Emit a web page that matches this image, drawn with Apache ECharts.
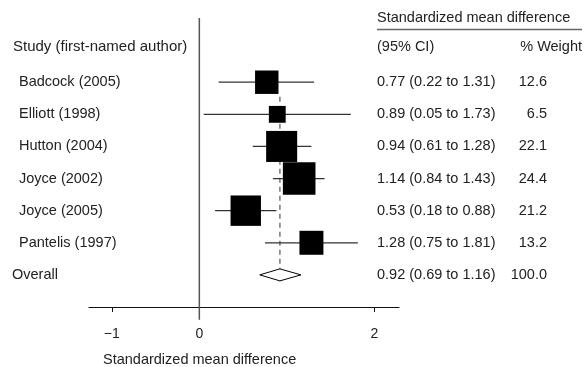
<!DOCTYPE html>
<html>
<head>
<meta charset="utf-8">
<script src="https://cdn.jsdelivr.net/npm/echarts@6/dist/echarts.min.js"></script>
<style>
  html, body { margin: 0; padding: 0; background: #fff; }
  #chart { width: 587px; height: 367px; }
</style>
</head>
<body>
<div id="chart"></div>
<script>
  // study data (standardized mean difference, 95% CI, % weight)
  const studies = ['Badcock (2005)', 'Elliott (1998)', 'Hutton (2004)', 'Joyce (2002)', 'Joyce (2005)', 'Pantelis (1997)'];
  const smd = [0.77, 0.89, 0.94, 1.14, 0.53, 1.28];
  const lower = [0.22, 0.05, 0.61, 0.84, 0.18, 0.75];
  const upper = [1.31, 1.73, 1.28, 1.43, 0.88, 1.81];
  const weight = [12.6, 6.5, 22.1, 24.4, 21.2, 13.2];
  const overallName = 'Overall';
  const overall = [0.92, 0.69, 1.16, 100.0];
  const tickValues = [-1, 0, 2];

  const FONT = '"Liberation Sans", Arial, sans-serif';
  const FS = 14.5;
  const TXT = '#222';

  const fmt = v => v.toFixed(2);
  const ciText = (e, l, u) => fmt(e) + ' (' + fmt(l) + ' to ' + fmt(u) + ')';

  const studyRows = studies.map((s, i) => [smd[i], i, lower[i], upper[i], weight[i]]);
  const overallRow = 6;

  // text rows: [row, left label, ci label, weight label]
  const textRows = studies.map((s, i) => [i, s, ciText(smd[i], lower[i], upper[i]), weight[i].toFixed(1)]);
  textRows.push([overallRow, overallName, ciText(overall[0], overall[1], overall[2]), overall[3].toFixed(1)]);

  const chart = echarts.init(document.getElementById('chart'));

  chart.setOption({
    animation: false,
    grid: { left: 89, right: 188, top: 18, bottom: 60 },
    xAxis: {
      type: 'value',
      min: -1.26,
      max: 2.28,
      splitLine: { show: false },
      axisLine: { onZero: false, lineStyle: { color: '#111', width: 1.2 } },
      axisTick: { customValues: [-1, 2], length: 5, lineStyle: { color: '#111' } },
      axisLabel: {
        customValues: tickValues,
        margin: 20,
        color: TXT,
        fontFamily: FONT,
        fontSize: 14,
        formatter: v => (v < 0 ? '\u2212' + Math.abs(v) : String(v))
      }
    },
    yAxis: {
      type: 'value',
      inverse: true,
      min: -2,
      max: 7,
      show: false
    },
    graphic: [
      { type: 'text', left: 103, top: 352, style: { text: 'Standardized mean difference', fill: TXT, font: FS + 'px ' + FONT } },
      { type: 'text', left: 377, top: 10, style: { text: 'Standardized mean difference', fill: TXT, font: FS + 'px ' + FONT } },
      { type: 'line', shape: { x1: 377, y1: 29.5, x2: 582, y2: 29.5 }, style: { stroke: '#666', lineWidth: 1.5 } },
      { type: 'text', left: 13, top: 39, style: { text: 'Study (first-named author)', fill: TXT, font: '15px ' + FONT } },
      { type: 'text', left: 377, top: 39, style: { text: '(95% CI)', fill: TXT, font: FS + 'px ' + FONT } },
      { type: 'text', right: 5, top: 39, style: { text: '% Weight', fill: TXT, font: FS + 'px ' + FONT } }
    ],
    series: [
      {
        // zero line and dashed overall line
        type: 'custom',
        silent: true,
        z: 1,
        data: [[0, overall[0]]],
        renderItem: (params, api) => {
          const top = api.coord([0, -2]);
          const bot = api.coord([0, 7.4]);
          const d1 = api.coord([api.value(1), 0.45]);
          const d2 = api.coord([api.value(1), overallRow + 0.2]);
          return {
            type: 'group',
            children: [
              { type: 'line', shape: { x1: top[0], y1: top[1], x2: bot[0], y2: bot[1] }, style: { stroke: '#555', lineWidth: 1.5 } },
              { type: 'line', shape: { x1: d1[0], y1: d1[1], x2: d2[0], y2: d2[1] }, style: { stroke: '#777', lineWidth: 1.5, lineDash: [5, 4] } }
            ]
          };
        }
      },
      {
        // study CIs and weighted boxes
        type: 'custom',
        z: 3,
        data: studyRows,
        encode: { x: [0, 2, 3], y: 1 },
        renderItem: (params, api) => {
          const row = api.value(1);
          const c = api.coord([api.value(0), row]);
          const l = api.coord([api.value(2), row]);
          const u = api.coord([api.value(3), row]);
          const side = 6.6 * Math.sqrt(api.value(4));
          return {
            type: 'group',
            children: [
              { type: 'line', shape: { x1: l[0], y1: c[1], x2: u[0], y2: c[1] }, style: { stroke: '#333', lineWidth: 1.2 } },
              { type: 'rect', shape: { x: c[0] - side / 2, y: c[1] - side / 2, width: side, height: side }, style: { fill: '#000' } }
            ]
          };
        }
      },
      {
        // overall diamond
        type: 'custom',
        z: 4,
        data: [[overall[0], overallRow, overall[1], overall[2]]],
        encode: { x: [0, 2, 3], y: 1 },
        renderItem: (params, api) => {
          const row = api.value(1);
          const c = api.coord([api.value(0), row]);
          const l = api.coord([api.value(2), row]);
          const u = api.coord([api.value(3), row]);
          const h = 6;
          return {
            type: 'polygon',
            shape: { points: [[l[0], c[1]], [c[0], c[1] - h], [u[0], c[1]], [c[0], c[1] + h]] },
            style: { fill: '#fff', stroke: '#000', lineWidth: 1 }
          };
        }
      },
      {
        // text columns
        type: 'custom',
        silent: true,
        z: 5,
        data: textRows.map(r => [0, r[0]]),
        renderItem: (params, api) => {
          const r = textRows[params.dataIndex];
          const y = api.coord([0, api.value(1)])[1];
          const isOverall = r[0] === overallRow;
          const base = { fill: TXT, font: FS + 'px ' + FONT, verticalAlign: 'middle' };
          return {
            type: 'group',
            children: [
              { type: 'text', x: isOverall ? 12 : 19, y: y, style: Object.assign({ text: r[1], align: 'left' }, base) },
              { type: 'text', x: 377, y: y, style: Object.assign({ text: r[2], align: 'left' }, base) },
              { type: 'text', x: 547, y: y, style: Object.assign({ text: r[3], align: 'right' }, base) }
            ]
          };
        }
      }
    ]
  });
</script>
</body>
</html>
